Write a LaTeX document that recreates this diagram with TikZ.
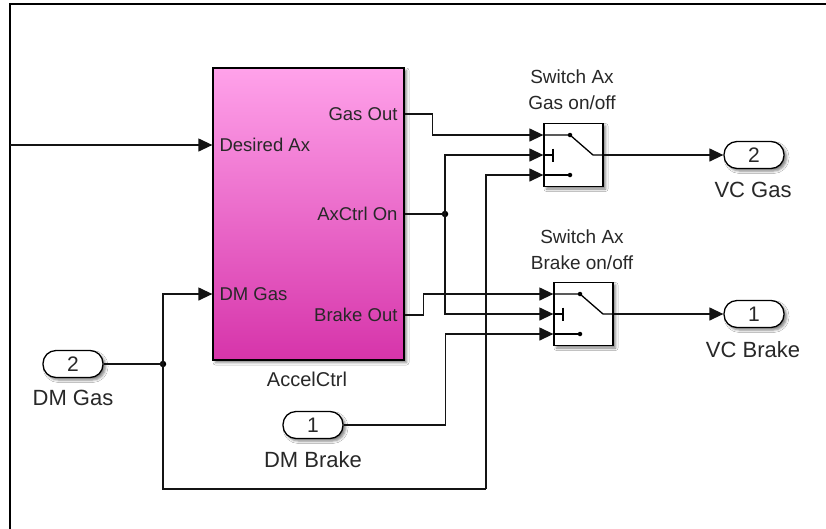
\documentclass[tikz,border=0pt]{standalone}
\usepackage{fontspec}
\setmainfont{Liberation Sans}
\usetikzlibrary{arrows.meta,calc,shadows.blur}
\definecolor{pinkTop}{RGB}{255,162,234}
\definecolor{pinkBot}{RGB}{214,52,170}
\definecolor{wirecol}{RGB}{20,20,20}
\definecolor{txtcol}{RGB}{40,40,40}
\begin{document}
\begin{tikzpicture}[x=1pt,y=-1pt,
  wire/.style={draw=wirecol, line width=1.3pt},
  arr/.style={wire, -{Triangle[length=14pt,width=13pt]}},
  shad/.style={blur shadow={shadow xshift=2.5pt, shadow yshift=-2.5pt, shadow blur radius=2.5pt, shadow opacity=50}},
  blockbox/.style={draw=black, line width=1.3pt, inner sep=0pt, shad},
  switchbox/.style={draw=black, fill=white, line width=1.3pt, minimum width=59pt, minimum height=63pt, inner sep=0pt, shad},
  portoval/.style={draw=black, fill=white, line width=1.3pt, rounded corners=13pt, minimum width=60pt, minimum height=27pt, inner sep=0pt, text=txtcol, font=\fontsize{21}{21}\selectfont, shad},
  portname/.style={text=txtcol, font=\fontsize{22}{22}\selectfont, inner sep=0pt},
  inlbl/.style={text=txtcol, font=\fontsize{18.5}{18.5}\selectfont, inner sep=0pt},
  swlbl/.style={text=txtcol, font=\fontsize{19}{26}\selectfont, align=center, inner sep=0pt},
  jdot/.style={circle, fill=black, minimum size=6.5pt, inner sep=0pt},
  swline/.style={draw=black, line width=1.3pt},
  swdot/.style={circle, fill=black, minimum size=4.5pt, inner sep=0pt}
]
\useasboundingbox (0,0) rectangle (826,528);
\fill[white] (0,0) rectangle (826,528);
% frame
\draw[line width=2pt] (10,535) -- (10,4) -- (835,4);

% AccelCtrl block
\node[blockbox, minimum width=191pt, minimum height=292pt, top color=pinkTop, bottom color=pinkBot] (acc) at (308.5,214) {};
\coordinate (accDes) at (acc.west |- 0,145);
\coordinate (accDMG) at (acc.west |- 0,294);
\coordinate (accGasOut) at (acc.east |- 0,114);
\coordinate (accAx) at (acc.east |- 0,214);
\coordinate (accBrk) at (acc.east |- 0,315);
\node[inlbl, anchor=west] (lDes) at ($(accDes)+(7,0)$) {Desired Ax};
\node[inlbl, anchor=west] (lDMG) at ($(accDMG)+(7,0)$) {DM Gas};
\node[inlbl, anchor=east] (lGas) at ($(accGasOut)+(-7,0)$) {Gas Out};
\node[inlbl, anchor=east] (lAx) at ($(accAx)+(-7,0)$) {AxCtrl On};
\node[inlbl, anchor=east] (lBrk) at ($(accBrk)+(-7,0)$) {Brake Out};
\node[portname, font=\fontsize{20}{20}\selectfont] (accName) at (307,379) {AccelCtrl};

% switches
\node[switchbox] (g) at (573.5,155) {};
\node[switchbox] (b) at (583.5,314) {};
\foreach \s in {g,b}{
  \coordinate (\s-in1) at ($(\s.west)+(0,-20)$);
  \coordinate (\s-in2) at (\s.west);
  \coordinate (\s-in3) at ($(\s.west)+(0,20)$);
  \draw[swline] (\s-in1) -- ($(\s)+(-3.5,-20)$) -- ($(\s)+(19.5,0)$) -- (\s.east);
  \node[swdot] (\s-d1) at ($(\s)+(-3.5,-20)$) {};
  \draw[swline] (\s-in2) -- ($(\s)+(-20.5,0)$);
  \draw[swline] ($(\s)+(-20.5,-6.5)$) -- ($(\s)+(-20.5,6.5)$);
  \draw[swline] (\s-in3) -- ($(\s)+(-3.5,20)$);
  \node[swdot] (\s-d3) at ($(\s)+(-3.5,20)$) {};
}
\node[swlbl] (gl) at (572,90) {Switch Ax\\Gas on/off};
\node[swlbl] (bl) at (582,250) {Switch Ax\\Brake on/off};

% ports
\node[portoval] (dmg) at (73,364) {2};
\node[portname] (dmgl) at (73,398) {DM Gas};
\node[portoval] (dmb) at (313,425) {1};
\node[portname] (dmbl) at (313,460) {DM Brake};
\node[portoval] (vcg) at (754,155) {2};
\node[portname] (vcgl) at (753,190) {VC Gas};
\node[portoval] (vcb) at (754,314) {1};
\node[portname] (vcbl) at (753,350) {VC Brake};

% junctions
\node[jdot] (jg) at (163,364) {};
\node[jdot] (jx) at (445,214) {};
\coordinate (inDes) at (10,145);
\coordinate (bend) at (486,489);

% wires
\draw[arr] (inDes) -- (accDes);
\draw[wire] (dmg.east) -- (jg.center);
\draw[arr] (jg.center) |- (accDMG);
\draw[wire] (jg.center) |- (bend);
\draw[arr] (bend) |- (g-in3);
\draw[arr] (accGasOut) -- ++(28,0) |- (g-in1);
\draw[wire] (accAx) -- (jx.center);
\draw[arr] (jx.center) |- (g-in2);
\draw[arr] (jx.center) |- (b-in2);
\draw[arr] (accBrk) -- ++(19,0) |- (b-in1);
\draw[arr] (dmb.east) -- ++(102,0) |- (b-in3);
\draw[arr] (g.east) -- (vcg.west);
\draw[arr] (b.east) -- (vcb.west);
\end{tikzpicture}
\end{document}
